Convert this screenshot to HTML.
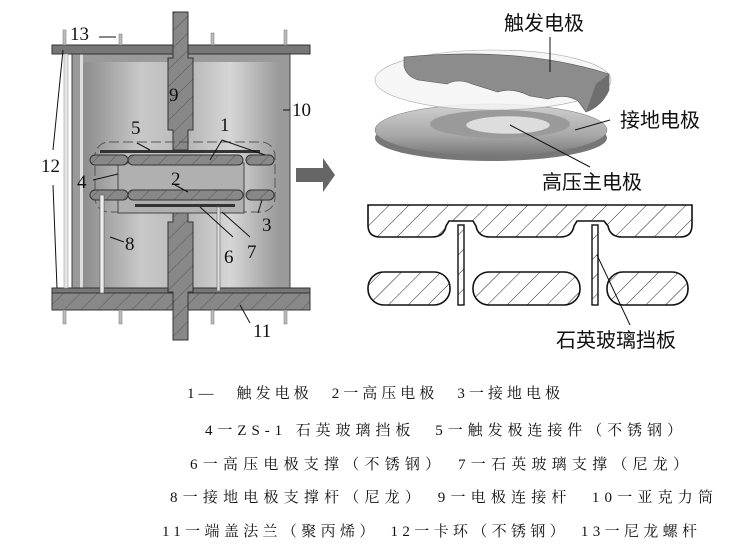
<!DOCTYPE html>
<html><head><meta charset="utf-8"><style>
html,body{margin:0;padding:0;background:#fff;width:756px;height:558px;overflow:hidden}
svg{display:block}
text{font-family:"Liberation Serif","Noto Serif CJK SC","Noto Sans CJK SC",serif;fill:#111}
</style></head><body>
<svg width="756" height="558" viewBox="0 0 756 558" xmlns="http://www.w3.org/2000/svg">
<defs>
<pattern id="h" width="14" height="14" patternUnits="userSpaceOnUse" patternTransform="rotate(45)"><rect width="14" height="14" fill="#fff"/><line x1="0" y1="0" x2="0" y2="14" stroke="#222" stroke-width="1"/></pattern>
<pattern id="hg" width="12" height="12" patternUnits="userSpaceOnUse" patternTransform="rotate(45)"><rect width="12" height="12" fill="#888"/><line x1="0" y1="0" x2="0" y2="12" stroke="#555" stroke-width="1"/></pattern>
<linearGradient id="cyl" x1="0" x2="1"><stop offset="0" stop-color="#8a8a8a"/><stop offset="0.3" stop-color="#c8c8c8"/><stop offset="0.55" stop-color="#b8b8b8"/><stop offset="0.75" stop-color="#d6d6d6"/><stop offset="1" stop-color="#999"/></linearGradient>
<linearGradient id="ring" x1="0" y1="0" x2="0" y2="1"><stop offset="0" stop-color="#d0d0d0"/><stop offset="0.6" stop-color="#a8a8a8"/><stop offset="1" stop-color="#777"/></linearGradient>
</defs>

<rect x="72" y="47" width="218" height="246" fill="#9a9a9a" stroke="#444"/>
<rect x="81" y="62" width="199" height="231" rx="6" fill="url(#cyl)"/>
<rect x="80" y="46" width="3" height="250" fill="#ddd"/>
<rect x="52" y="45" width="258" height="9" fill="#777" stroke="#333"/>
<rect x="52" y="288" width="258" height="7" fill="#777" stroke="#333"/>
<rect x="52" y="293" width="258" height="17" fill="url(#hg)" stroke="#333"/>
<g fill="#bbb" stroke="#777" stroke-width="0.5">
<rect x="63" y="30" width="3" height="15"/><rect x="119" y="34" width="3" height="11"/><rect x="211" y="33" width="3" height="12"/><rect x="284" y="30" width="3" height="15"/>
<rect x="63" y="310" width="3" height="14"/><rect x="119" y="310" width="3" height="14"/><rect x="211" y="310" width="3" height="14"/><rect x="284" y="310" width="3" height="14"/>
</g>
<rect x="64" y="54" width="4" height="234" fill="#e5e5e5" stroke="#888" stroke-width="0.5"/>
<path d="M173,12 H188 V58 H193 V130 H188 V150 H173 V130 H168 V58 H173 Z" fill="url(#hg)" stroke="#333"/>
<path d="M173,203 H188 V222 H193 V292 H188 V340 H173 V292 H168 V222 H173 Z" fill="url(#hg)" stroke="#333"/>
<rect x="95" y="142" width="180" height="70" rx="14" fill="none" stroke="#555" stroke-dasharray="10 4"/>
<rect x="118" y="163" width="126" height="50" fill="#b0b0b0" stroke="#444"/>
<g fill="url(#hg)" stroke="#333">
<rect x="90" y="155" width="38" height="10" rx="5"/><rect x="128" y="155" width="115" height="10" rx="5"/><rect x="246" y="155" width="28" height="10" rx="5"/>
<rect x="90" y="190" width="38" height="10" rx="5"/><rect x="128" y="190" width="115" height="10" rx="5"/><rect x="246" y="190" width="28" height="10" rx="5"/>
</g>
<rect x="100" y="150" width="160" height="3" fill="#333"/>
<rect x="135" y="204" width="100" height="3" fill="#333"/>
<rect x="100" y="195" width="4" height="98" fill="#eee" stroke="#555" stroke-width="0.6"/>
<rect x="217" y="207" width="3" height="84" fill="#ddd" stroke="#666" stroke-width="0.6"/>
<g stroke="#111" stroke-width="1" fill="none">
<line x1="63" y1="50" x2="53" y2="150"/><line x1="53" y1="185" x2="57" y2="288"/>
<line x1="99" y1="37" x2="116" y2="37"/>
<line x1="283" y1="110" x2="290" y2="110"/>
<line x1="137" y1="143" x2="150" y2="150"/>
<line x1="222" y1="140" x2="210" y2="160"/><line x1="222" y1="140" x2="265" y2="155"/>
<line x1="93" y1="180" x2="118" y2="174"/>
<line x1="175" y1="185" x2="188" y2="192"/>
<line x1="258" y1="213" x2="262" y2="200"/>
<line x1="233" y1="237" x2="200" y2="207"/>
<line x1="250" y1="237" x2="222" y2="212"/>
<line x1="110" y1="237" x2="124" y2="242"/>
<line x1="250" y1="323" x2="240" y2="305"/>
</g>
<g font-size="19">
<text x="70" y="40">13</text><text x="169" y="101">9</text><text x="292" y="116">10</text>
<text x="41" y="172">12</text><text x="131" y="134">5</text><text x="220" y="131">1</text>
<text x="77" y="188">4</text><text x="171" y="185">2</text><text x="262" y="231">3</text>
<text x="125" y="250">8</text><text x="224" y="263">6</text><text x="247" y="258">7</text>
<text x="253" y="337">11</text>
</g>
<path d="M296,168 H323 V158 L335,175 L323,192 V182 H296 Z" fill="#666"/>

<ellipse cx="491" cy="138" rx="116" ry="23" fill="#777"/>
<ellipse cx="491" cy="130" rx="116" ry="26" fill="url(#ring)" stroke="#777" stroke-width="0.5"/>
<ellipse cx="500" cy="124" rx="70" ry="14" fill="#9a9a9a"/>
<ellipse cx="508" cy="125" rx="42" ry="9" fill="#ddd" stroke="#999" stroke-width="0.5"/>
<ellipse cx="493" cy="80" rx="118" ry="30" fill="#f4f4f4" fill-opacity="0.85" stroke="#aaa" stroke-width="0.6"/>
<path d="M404,57 Q520,46 609,74 L609,90 Q602,106 586,112 L578,101 Q566,93 548,99 L530,96 Q512,87 498,92 L472,84 Q458,78 447,84 L418,80 Q406,76 404,66 Z" fill="#8c8c8c" stroke="#555" stroke-width="0.6"/>
<path d="M586,112 Q602,106 609,90 L609,74 L596,84 Z" fill="#6e6e6e"/>
<g stroke="#111" stroke-width="1">
<line x1="550" y1="37" x2="550" y2="72"/>
<line x1="610" y1="120" x2="575" y2="130"/>
<line x1="510" y1="125" x2="590" y2="167"/>
</g>
<g font-size="20">
<text x="504" y="30" style="font-family:'Noto Sans CJK SC',sans-serif">触发电极</text>
<text x="620" y="127" style="font-family:'Noto Sans CJK SC',sans-serif">接地电极</text>
<text x="542" y="189" style="font-family:'Noto Sans CJK SC',sans-serif">高压主电极</text>
<text x="556" y="347" style="font-family:'Noto Sans CJK SC',sans-serif">石英玻璃挡板</text>
</g>

<path d="M368,205 H692 V225 Q692,237 680,237 H622 Q610,237 608,226 L604,221 H577 L574,226 Q572,237 560,237 H490 Q478,237 476,226 L473,221 H449 L446,226 Q444,237 432,237 H380 Q368,237 368,225 Z" fill="url(#h)" stroke="#111" stroke-width="1.6"/>
<rect x="458" y="225" width="6" height="80" fill="url(#h)" stroke="#111" stroke-width="1.4"/>
<rect x="592" y="225" width="6" height="80" fill="url(#h)" stroke="#111" stroke-width="1.4"/>
<rect x="368" y="272" width="82" height="33" rx="16" fill="url(#h)" stroke="#111" stroke-width="1.6"/>
<rect x="473" y="272" width="107" height="33" rx="16" fill="url(#h)" stroke="#111" stroke-width="1.6"/>
<rect x="607" y="272" width="81" height="33" rx="16" fill="url(#h)" stroke="#111" stroke-width="1.6"/>
<line x1="597" y1="255" x2="630" y2="325" stroke="#111"/>

<g font-size="15">
<text x="187" y="398" textLength="373" lengthAdjust="spacing">1—　触发电极　2一高压电极　3一接地电极</text>
<text x="205" y="435" textLength="477" lengthAdjust="spacing">4一ZS-1 石英玻璃挡板　5一触发极连接件（不锈钢）</text>
<text x="190" y="469" textLength="498" lengthAdjust="spacing">6一高压电极支撑（不锈钢）　7一石英玻璃支撑（尼龙）</text>
<text x="170" y="502" textLength="543" lengthAdjust="spacing">8一接地电极支撑杆（尼龙）　9一电极连接杆　10一亚克力筒</text>
<text x="162" y="536" textLength="535" lengthAdjust="spacing">11一端盖法兰（聚丙烯）　12一卡环（不锈钢）　13一尼龙螺杆</text>
</g>
</svg>
</body></html>
